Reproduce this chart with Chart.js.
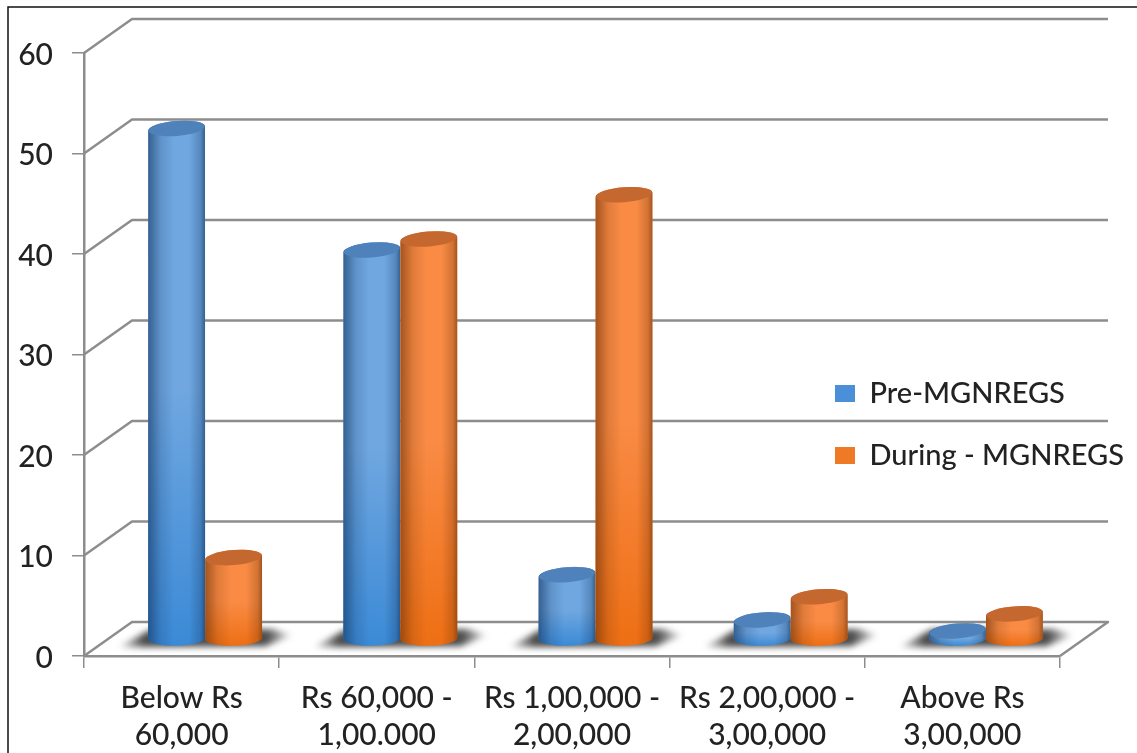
<!DOCTYPE html>
<html>
<head>
<meta charset="utf-8">
<title>Income groups</title>
<script src="https://cdn.jsdelivr.net/npm/chart.js@4"></script>
<style>
  html, body { margin: 0; background: #fff; }
  canvas { display: block; }
</style>
</head>
<body>
<canvas id="chart" width="1137" height="753"></canvas>
<script>
const categories = [
  ['Below Rs', '60,000'],
  ['Rs 60,000 -', '1,00.000'],
  ['Rs 1,00,000 -', '2,00,000'],
  ['Rs 2,00,000 -', '3,00,000'],
  ['Above Rs', '3,00,000']
];
const preValues = [50.8, 38.7, 6.4, 1.9, 0.8];
const duringValues = [8.1, 39.8, 44.2, 4.2, 2.5];

const AXIS_GREY = '#8d8d8d';
const TEXT = '#222222';
const FONT = 'Lato, "Open Sans", sans-serif';

// depth of the fake 3D box, the wall sits this far behind the front plane
const DEPTH_X = 48;
const DEPTH_Y = 34;
// bars stand halfway into the box
const BAR_SHIFT_X = 23.5;
const BAR_SHIFT_Y = 17;

const BLUE = { legend: '#4a8fd8', light: '#70a7e0', dark: '#3b8ad6', cap: '#4f82ba', edge: '18,52,96' };
const ORANGE = { legend: '#ef7a26', light: '#f98b45', dark: '#ee6f14', cap: '#c4682f', edge: '110,50,8' };
const CYLINDER_STYLES = [BLUE, ORANGE];

const drawFrame = (ctx) => {
  ctx.save();
  ctx.strokeStyle = '#111';
  ctx.lineWidth = 1.5;
  ctx.beginPath();
  ctx.moveTo(8, 753);
  ctx.lineTo(8, 7);
  ctx.lineTo(1137, 7);
  ctx.stroke();
  ctx.restore();
};

const drawWalls = (chart) => {
  const { ctx, chartArea, scales } = chart;
  ctx.save();
  ctx.strokeStyle = AXIS_GREY;
  ctx.lineWidth = 2.5;
  ctx.lineJoin = 'round';
  scales.y.ticks.forEach((tick) => {
    const y = scales.y.getPixelForValue(tick.value);
    ctx.beginPath();
    ctx.moveTo(chartArea.left, y);
    ctx.lineTo(chartArea.left + DEPTH_X, y - DEPTH_Y);
    ctx.lineTo(chartArea.right + DEPTH_X, y - DEPTH_Y);
    // only the floor gets closed off on the right
    if (tick.value === 0) {
      ctx.lineTo(chartArea.right, y);
    }
    ctx.stroke();
  });
  ctx.restore();
};

const drawFloorShadows = (chart) => {
  const { ctx } = chart;
  const first = chart.getDatasetMeta(0).data;
  const second = chart.getDatasetMeta(1).data;
  ctx.save();
  ctx.filter = 'blur(3px)';
  first.forEach((el, i) => {
    const cx = (el.x + second[i].x) / 2 + BAR_SHIFT_X;
    const y = el.base - BAR_SHIFT_Y;
    // fades out sideways, darkest right behind the bars
    const fade = ctx.createLinearGradient(cx - 88, 0, cx + 88, 0);
    fade.addColorStop(0, 'rgba(45,45,45,0)');
    fade.addColorStop(0.15, 'rgba(45,45,45,0.85)');
    fade.addColorStop(0.85, 'rgba(45,45,45,0.85)');
    fade.addColorStop(1, 'rgba(45,45,45,0)');
    ctx.fillStyle = fade;
    ctx.beginPath();
    ctx.moveTo(cx - 88, y + 9);
    ctx.lineTo(cx - 54, y - 9);
    ctx.lineTo(cx + 68, y - 9);
    ctx.lineTo(cx + 88, y - 3);
    ctx.lineTo(cx + 60, y + 8);
    ctx.closePath();
    ctx.fill();
  });
  ctx.restore();
};

const drawCylinder = (ctx, el, style) => {
  const cx = el.x + BAR_SHIFT_X;
  const top = el.y - BAR_SHIFT_Y;
  const base = el.base - BAR_SHIFT_Y;
  const rx = el.width / 2;
  const ry = 7.5;
  const topTilt = -0.08;
  const baseTilt = -0.02;

  const outline = () => {
    ctx.beginPath();
    ctx.ellipse(cx, base, rx, ry, baseTilt, 0, Math.PI);
    ctx.ellipse(cx, top, rx, ry, topTilt, Math.PI, Math.PI * 2);
    ctx.closePath();
  };

  const body = ctx.createLinearGradient(0, top, 0, base + ry);
  body.addColorStop(0, style.light);
  body.addColorStop(0.5, style.light);
  body.addColorStop(1, style.dark);
  outline();
  ctx.fillStyle = body;
  ctx.fill();

  const edges = ctx.createLinearGradient(cx - rx, 0, cx + rx, 0);
  edges.addColorStop(0, `rgba(${style.edge},0.62)`);
  edges.addColorStop(0.22, `rgba(${style.edge},0.18)`);
  edges.addColorStop(0.45, `rgba(${style.edge},0)`);
  edges.addColorStop(0.72, `rgba(${style.edge},0)`);
  edges.addColorStop(0.92, `rgba(${style.edge},0.28)`);
  edges.addColorStop(1, `rgba(${style.edge},0.62)`);
  outline();
  ctx.fillStyle = edges;
  ctx.fill();

  ctx.beginPath();
  ctx.ellipse(cx, top, rx - 0.5, ry, topTilt, 0, Math.PI * 2);
  ctx.fillStyle = style.cap;
  ctx.fill();
};

// the native rectangles are skipped, cylinders go on the bar elements instead
const cylinderBars = {
  id: 'cylinderBars',
  beforeDraw(chart) {
    drawFrame(chart.ctx);
  },
  afterLayout(chart) {
    // legend floats over the right part of the plot
    const legend = chart.legend;
    legend.left = 802;
    legend.top = 346;
    legend.right = 1137;
    legend.bottom = 753;
    legend.adjustHitBoxes();
  },
  beforeDatasetsDraw(chart) {
    drawWalls(chart);
    drawFloorShadows(chart);
    chart.data.datasets.forEach((dataset, i) => {
      chart.getDatasetMeta(i).data.forEach((el) => {
        drawCylinder(chart.ctx, el, CYLINDER_STYLES[i]);
      });
    });
  },
  beforeDatasetDraw() {
    return false;
  }
};

new Chart(document.getElementById('chart').getContext('2d'), {
  type: 'bar',
  data: {
    labels: categories,
    datasets: [
      { label: 'Pre-MGNREGS', data: preValues, backgroundColor: BLUE.legend, borderWidth: 0 },
      { label: 'During - MGNREGS', data: duringValues, backgroundColor: ORANGE.legend, borderWidth: 0 }
    ]
  },
  options: {
    responsive: false,
    animation: false,
    events: [],
    categoryPercentage: 0.584,
    barPercentage: 1,
    layout: { padding: { top: 53, right: 77, left: 0, bottom: 0 } },
    scales: {
      x: {
        afterFit: (scale) => { scale.height = 97; },
        grid: { drawOnChartArea: false, tickLength: 12, color: AXIS_GREY, lineWidth: 1.5 },
        border: { color: AXIS_GREY, width: 2.5 },
        ticks: {
          color: TEXT,
          font: { family: FONT, size: 30, lineHeight: 1.23, weight: '500' },
          padding: 12,
          maxRotation: 0,
          autoSkip: false
        }
      },
      y: {
        min: 0,
        max: 60,
        afterFit: (scale) => { scale.width = 84; },
        grid: { drawOnChartArea: false, tickLength: 12, color: AXIS_GREY, lineWidth: 1.5 },
        border: { color: AXIS_GREY, width: 2.5 },
        ticks: {
          stepSize: 10,
          color: TEXT,
          font: { family: FONT, size: 30, weight: '500' },
          padding: 19,
          labelOffset: 2
        }
      }
    },
    plugins: {
      tooltip: { enabled: false },
      legend: {
        position: 'chartArea',
        align: 'start',
        labels: {
          boxWidth: 20,
          boxHeight: 17,
          color: TEXT,
          font: { family: FONT, size: 29, weight: '500' },
          padding: 33
        }
      }
    }
  },
  plugins: [cylinderBars]
});
</script>
</body>
</html>
